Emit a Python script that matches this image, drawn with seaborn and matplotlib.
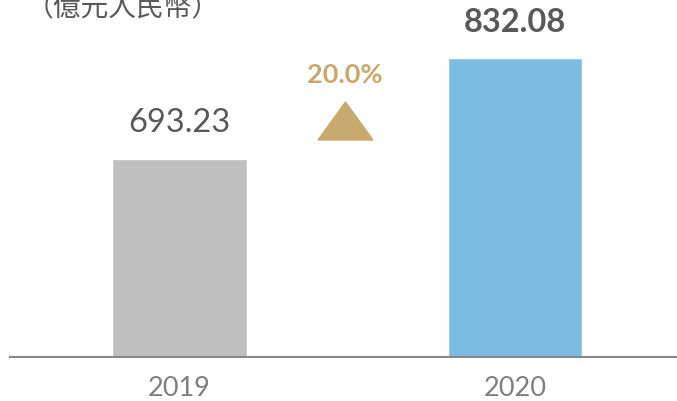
import numpy as np
import pandas as pd
import matplotlib.pyplot as plt
import seaborn as sns
from matplotlib.patches import Polygon

# Data
years = ['2019', '2020']
revenue = [693.23, 832.08]
growth_label = '20.0%'
unit_label = '（億元人民幣）'
bar_colors = ['#BFBFBF', '#7CBCE3']

df = pd.DataFrame({'year': years, 'revenue': revenue})

sns.set_style('white')
plt.rcParams['font.family'] = ['Lato', 'Noto Sans CJK TC', 'DejaVu Sans']

W, H = 677, 402
fig = plt.figure(figsize=(W / 100, H / 100), dpi=100)
ax = fig.add_axes([10 / W, 44 / H, 1 - 10 / W, 1 - 44 / H])

sns.barplot(data=df, x='year', y='revenue', hue='year', palette=bar_colors,
            width=0.4, legend=False, ax=ax, saturation=1)

ax.set_xlim(-0.505, 1.483)
ax.set_ylim(421, 913)

# value labels
ax.bar_label(ax.containers[0], fmt='%.2f', padding=16, fontsize=23.5, color='#595959')
ax.bar_label(ax.containers[1], fmt='%.2f', padding=16, fontsize=23.5, color='#595959',
             fontweight='bold')

# axis styling
for s in ['top', 'left', 'right']:
    ax.spines[s].set_visible(False)
ax.spines['bottom'].set_color('#898989')
ax.spines['bottom'].set_linewidth(1.5)
ax.set_yticks([])
ax.set_xlabel('')
ax.set_ylabel('')
ax.tick_params(axis='x', length=0, pad=13, labelsize=19.5, labelcolor='#7F7F7F')

# growth indicator
fig.text(345 / W, 1 - 75 / H, growth_label, ha='center', va='center',
         fontsize=19.5, fontweight='bold', color='#C8A96E')
tri = Polygon([(318 / W, 1 - 141 / H), (373 / W, 1 - 141 / H), (345.5 / W, 1 - 103 / H)],
              closed=True, transform=fig.transFigure, color='#C8A96E')
fig.patches.append(tri)

# unit label (partially cut at the top, as in the source)
fig.text(26 / W, 1 - 16 / H, unit_label, ha='left', va='baseline', fontsize=20,
         color='#595959', family=['Noto Sans CJK TC', 'DejaVu Sans'])

plt.savefig('out.png', dpi=100)
